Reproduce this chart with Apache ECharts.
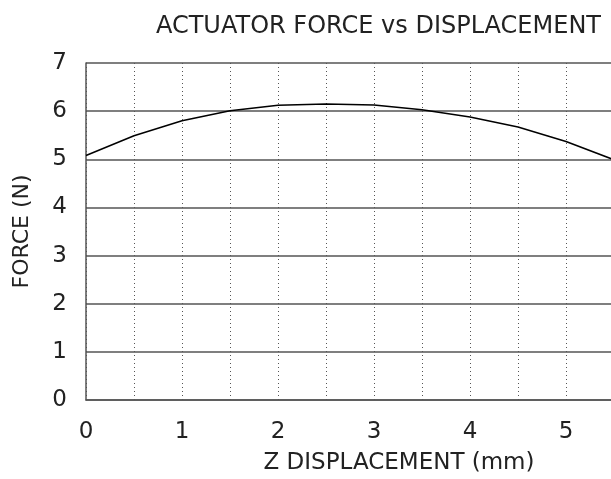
<!DOCTYPE html>
<html><head><meta charset="utf-8">
<script src="https://cdn.jsdelivr.net/npm/echarts@6/dist/echarts.min.js"></script>
<style>html,body{margin:0;padding:0;background:#fff}#c{width:611px;height:479px}</style>
</head><body><div id="c"></div>
<script>
const displacement = [0, 0.5, 1, 1.5, 2, 2.5, 3, 3.5, 4, 4.5, 5, 5.5];
const force = [5.08, 5.49, 5.80, 6.01, 6.12, 6.15, 6.13, 6.03, 5.88, 5.67, 5.37, 4.99];
const titleText = 'ACTUATOR FORCE vs DISPLACEMENT';
const xName = 'Z DISPLACEMENT (mm)';
const yName = 'FORCE (N)';

const FONT = 'DejaVu Sans';
const chart = echarts.init(document.getElementById('c'), null, {renderer: 'canvas'});
chart.setOption({
  animation: false,
  backgroundColor: '#fff',
  title: {
    text: titleText, right: 5, top: 10,
    textStyle: {fontFamily: FONT, fontSize: 24, fontWeight: 'normal', color: '#222'}
  },
  grid: {left: 86, right: -3, top: 63, bottom: 79, outerBoundsMode: 'none', containLabel: false},
  xAxis: {
    type: 'value', min: 0, max: 5.5, interval: 0.5,
    name: xName, nameLocation: 'middle', nameGap: 52,
    nameTextStyle: {fontFamily: FONT, fontSize: 23, color: '#222', padding: [0, 0, 0, 98]},
    axisLine: {show: true, lineStyle: {color: '#555', width: 1.5}},
    axisTick: {show: false},
    axisLabel: {fontFamily: FONT, fontSize: 23, color: '#222', margin: 21,
      formatter: v => (Math.abs(v - Math.round(v)) < 1e-9 && v < 5.5) ? String(Math.round(v)) : ''},
    splitLine: {show: true, lineStyle: {color: '#555', width: 1, type: [1, 3]}}
  },
  yAxis: {
    type: 'value', min: 0, max: 7, interval: 1,
    name: yName, nameLocation: 'middle', nameGap: 53,
    nameTextStyle: {fontFamily: FONT, fontSize: 22, color: '#222'},
    axisLine: {show: true, lineStyle: {color: '#555', width: 1.5}},
    axisTick: {show: false},
    axisLabel: {fontFamily: FONT, fontSize: 23, color: '#222', margin: 19},
    splitLine: {show: true, lineStyle: {color: '#555', width: 1.5}}
  },
  series: [{
    type: 'line', data: displacement.map((x, i) => [x, force[i]]),
    showSymbol: false, lineStyle: {color: '#000', width: 1.5}, clip: false
  }]
});
</script></body></html>
